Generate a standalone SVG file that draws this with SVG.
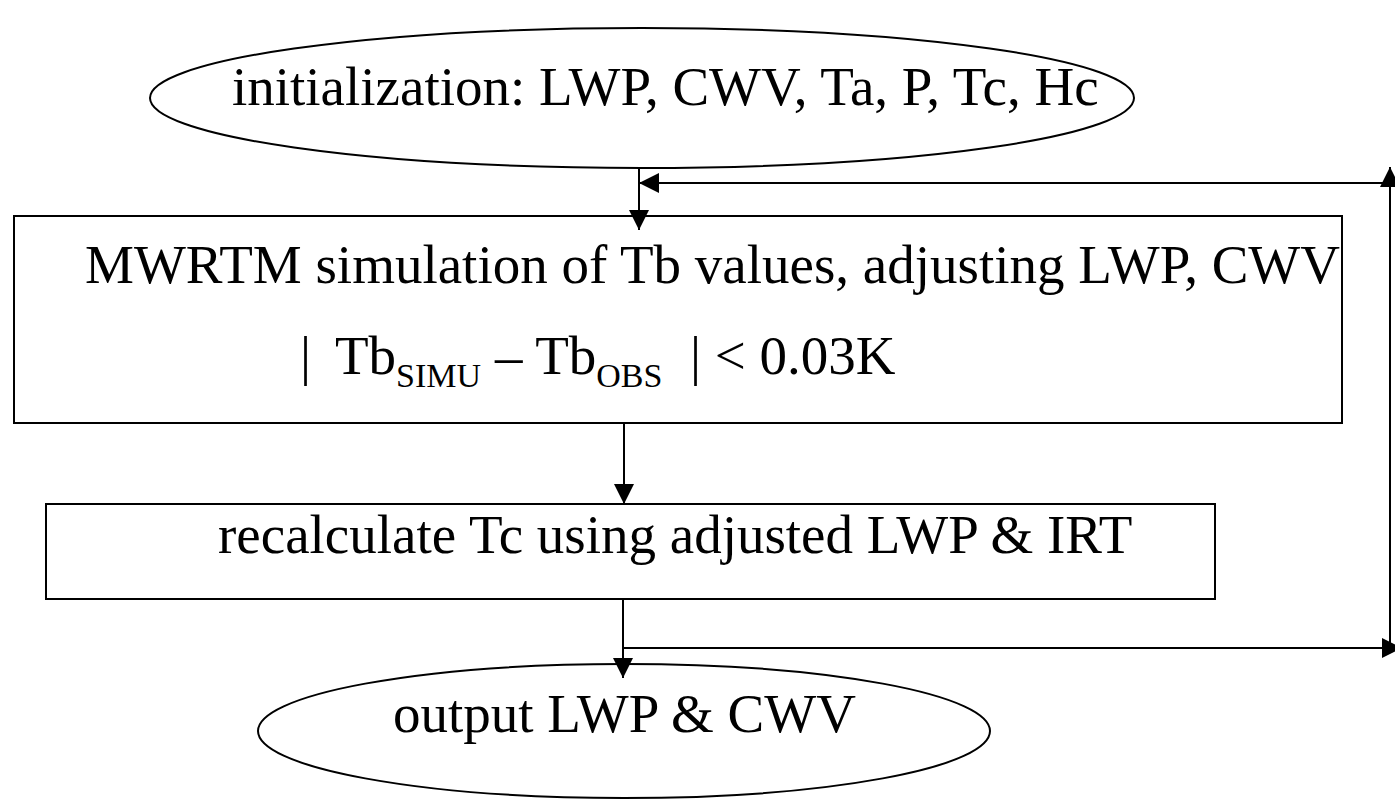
<svg xmlns="http://www.w3.org/2000/svg" width="1395" height="803" viewBox="0 0 1395 803">
<style>
.s{fill:none;stroke:#000;stroke-width:2}
.t{font-family:"Liberation Serif","Times New Roman",serif;font-size:55px;fill:#000}
.sub{font-size:34px}
</style>
<defs>
<marker id="a" viewBox="0 0 10 10" refX="10" refY="5" markerWidth="20" markerHeight="20" markerUnits="userSpaceOnUse" orient="auto" preserveAspectRatio="none">
<path d="M0,0 L10,5 L0,10 Z" fill="#000"/>
</marker>
</defs>
<rect width="1395" height="803" fill="#fff"/>
<g id="connectors">
<line class="s" x1="639" y1="168" x2="639" y2="230" marker-end="url(#a)"/>
<line class="s" x1="1390" y1="183" x2="639" y2="183" marker-end="url(#a)"/>
<line class="s" x1="1390" y1="648" x2="1390" y2="167" marker-end="url(#a)"/>
<line class="s" x1="624" y1="423" x2="624" y2="504" marker-end="url(#a)"/>
<line class="s" x1="623" y1="599" x2="623" y2="678" marker-end="url(#a)"/>
<line class="s" x1="623" y1="648" x2="1402" y2="648" marker-end="url(#a)"/>
</g>
<g id="init">
<ellipse class="s" cx="642" cy="98" rx="492" ry="70"/>
<text class="t" x="232" y="105">initialization: LWP, CWV, Ta, P, Tc, Hc</text>
</g>
<g id="mwrtm">
<rect class="s" x="14" y="216" width="1328" height="207"/>
<text class="t" x="85" y="283">MWRTM simulation of Tb values, adjusting LWP, CWV</text>
<text class="t" x="300" y="374">|</text>
<text class="t" x="335" y="374">Tb<tspan class="sub" y="387">SIMU</tspan><tspan y="374"> – Tb</tspan><tspan class="sub" y="387">OBS</tspan></text>
<text class="t" x="690" y="374">| &lt; 0.03K</text>
</g>
<g id="recalc">
<rect class="s" x="46" y="504" width="1169" height="95"/>
<text class="t" x="218" y="553">recalculate Tc using adjusted LWP &amp; IRT</text>
</g>
<g id="output">
<ellipse class="s" cx="624" cy="731" rx="366" ry="67"/>
<text class="t" x="393" y="732">output LWP &amp; CWV</text>
</g>
</svg>
